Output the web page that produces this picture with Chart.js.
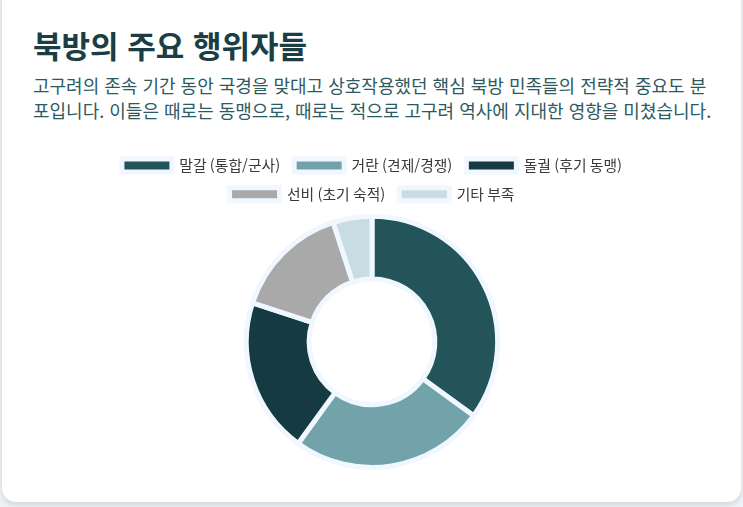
<!DOCTYPE html>
<html lang="ko">
<head>
<meta charset="utf-8">
<script src="https://cdn.jsdelivr.net/npm/chart.js@4"></script>
<style>
    body {
        margin: 0;
        background: #eef3f8;
        font-family: "Noto Sans CJK KR", "Noto Sans", sans-serif;
        overflow: hidden;
    }
    .card {
        position: absolute;
        left: 2px;
        top: -16px;
        width: 739px;
        height: 518px;
        background: #ffffff;
        border-radius: 14px;
        box-shadow: 0 3px 6px rgba(0, 0, 0, 0.12);
    }
    h2 {
        position: absolute;
        left: 31px;
        top: 42px;
        margin: 0;
        font-size: 31px;
        font-weight: 700;
        color: #1b3d44;
        line-height: 38px;
    }
    p {
        position: absolute;
        left: 31px;
        top: 89px;
        width: 684px;
        margin: 0;
        font-size: 18px;
        line-height: 25px;
        color: #2d5a61;
    }
    .chart-box {
        position: absolute;
        left: 31px;
        top: 160px;
        width: 678px;
        height: 328px;
    }
</style>
</head>
<body>
<div class="card">
    <h2>북방의 주요 행위자들</h2>
    <p>고구려의 존속 기간 동안 국경을 맞대고 상호작용했던 핵심 북방 민족들의 전략적 중요도 분포입니다. 이들은 때로는 동맹으로, 때로는 적으로 고구려 역사에 지대한 영향을 미쳤습니다.</p>
    <div class="chart-box"><canvas id="actors"></canvas></div>
</div>
<script>
let labels = ["말갈 (통합/군사)", "거란 (견제/경쟁)", "돌궐 (후기 동맹)", "선비 (초기 숙적)", "기타 부족"];
let values = [35, 25, 20, 15, 5];
let colors = ["#23545a", "#73a3aa", "#163a42", "#a9a9a9", "#c8dde3"];

let ctx = document.getElementById("actors").getContext("2d");

new Chart(ctx, {
    type: "doughnut",
    data: {
        labels,
        datasets: [{
            data: values,
            backgroundColor: colors,
            borderColor: "#f0f7ff",
            borderWidth: 5
        }]
    },
    options: {
        responsive: true,
        maintainAspectRatio: false,
        animation: false,
        cutout: "50%",
        radius: "98.4%",
        plugins: {
            legend: {
                position: "top",
                labels: {
                    boxWidth: 50,
                    boxHeight: 13,
                    padding: 14,
                    color: "#3a3a3a",
                    font: { family: "'Noto Sans CJK KR'", size: 14.8 }
                }
            },
            tooltip: { enabled: false }
        }
    }
});
</script>
</body>
</html>
